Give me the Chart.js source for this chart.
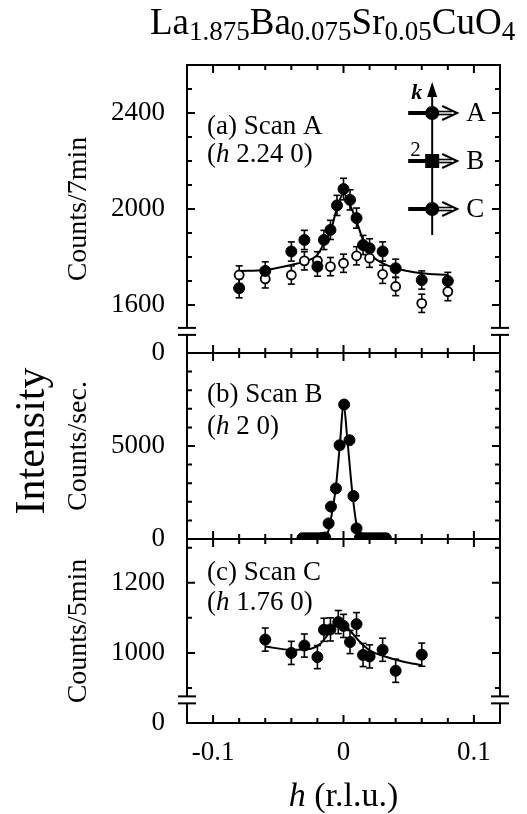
<!DOCTYPE html>
<html>
<head>
<meta charset="utf-8">
<script src="https://cdn.jsdelivr.net/npm/chart.js@4.4.1/dist/chart.umd.min.js"></script>
<style>
  html, body { margin: 0; padding: 0; background: #fff; }
  canvas { display: block; }
</style>
</head>
<body>
<canvas id="chart" width="527" height="814"></canvas>
<script>
const SERIF = '"Liberation Serif", "Times New Roman", Times, serif';

// (a) Scan A, (h 2.24 0), counts / 7 min
const hA = [-0.08, -0.06, -0.04, -0.03, -0.02, -0.015, -0.01, -0.005, 0, 0.005, 0.01, 0.015, 0.02, 0.03, 0.04, 0.06, 0.08];
const scanA = [1670, 1742, 1823, 1871, 1760, 1871, 1913, 2015, 2083, 2038, 1962, 1850, 1836, 1823, 1753, 1704, 1700];
const errA = [40, 38, 40, 40, 40, 40, 40, 42, 45, 42, 42, 40, 40, 40, 38, 38, 36];
const hAOpen = [-0.08, -0.06, -0.04, -0.03, -0.02, -0.01, 0, 0.01, 0.02, 0.03, 0.04, 0.06, 0.08];
const scanAOpen = [1725, 1709, 1725, 1784, 1784, 1760, 1774, 1805, 1795, 1728, 1677, 1607, 1656];
const errAOpen = [38, 38, 38, 38, 38, 38, 38, 38, 38, 38, 38, 38, 38];
const hFitA = [-0.08, -0.06, -0.04, -0.03, -0.02, -0.015, -0.01, -0.005, 0, 0.005, 0.01, 0.015, 0.02, 0.03, 0.04, 0.06, 0.08];
const fitA = [1742, 1746, 1767, 1781, 1809, 1857, 1906, 2003, 2066, 2017, 1948, 1871, 1816, 1774, 1753, 1732, 1725];

// (b) Scan B, (h 2 0), counts / sec
const hB = [-0.0315, -0.029, -0.0265, -0.024, -0.0215, -0.019, -0.0165, -0.014, -0.0114, -0.0096, -0.0058, -0.003, 0.0005, 0.0046, 0.0076, 0.010,
  0.0125, 0.015, 0.0175, 0.020, 0.0225, 0.025, 0.0275, 0.030, 0.0325];
const scanB = [40, 40, 40, 40, 40, 40, 50, 80, 840, 1740, 2720, 5040, 7230, 5310, 2310, 570,
  60, 40, 40, 40, 40, 40, 40, 40, 40];
const hFitB = [-0.032, -0.015, -0.0114, -0.0089, -0.0058, -0.0025, 0, 0.003, 0.0063, 0.0094, 0.0122, 0.015, 0.033];
const fitB = [20, 20, 480, 1380, 2810, 5310, 7280, 5310, 2810, 1020, 120, 20, 20];

// (c) Scan C, (h 1.76 0), counts / 5 min
const hC = [-0.06, -0.04, -0.03, -0.02, -0.015, -0.01, -0.004, 0, 0.005, 0.01, 0.015, 0.02, 0.03, 0.04, 0.06];
const scanC = [1038, 1000, 1021, 988, 1066, 1067, 1088, 1077, 1031, 1082, 994, 990, 1009, 949, 995];
const errC = [33, 33, 33, 33, 33, 33, 33, 33, 33, 33, 33, 33, 33, 33, 33];
const hFitC = [-0.06, -0.04, -0.025, -0.0177, -0.0114, -0.005, 0, 0.005, 0.0114, 0.02, 0.03, 0.046, 0.06];
const fitC = [1018, 1009, 1012, 1026, 1055, 1081, 1084, 1064, 1036, 1007, 992, 975, 965];

// ticks
const hLabels = [-0.1, 0, 0.1];
const hMinor = [-0.08, -0.06, -0.04, -0.02, 0.02, 0.04, 0.06, 0.08];
const aLabels = [1400, 1600, 2000, 2400];   // 1400 is the broken-axis zero
const aMinor = [1700, 1800, 1900, 2100, 2200, 2300, 2500];
const bLabels = [0, 5000];
const bMinor = [1000, 2000, 3000, 4000, 6000, 7000, 8000, 9000];
const cLabels = [800, 1000, 1200];          // 800 is the broken-axis zero
const cMinor = [900, 1100, 1300];

const pts = (xs, ys) => xs.map((x, i) => ({ x, y: ys[i] }));

const filled = { pointRadius: 5.5, pointHoverRadius: 5.5, pointBackgroundColor: "#000", pointBorderColor: "#000", pointBorderWidth: 1, showLine: false };
const fitLine = { showLine: true, pointRadius: 0, borderColor: "#000", borderWidth: 2, cubicInterpolationMode: "monotone" };

const tickFont = { family: SERIF, size: 27 };
const titleFont = { family: SERIF, size: 28 };

const yAxis = (weight, stackWeight, min, max, labels, zero, title) => ({
  type: "linear",
  position: "left",
  stack: "panels",
  stackWeight: stackWeight,
  weight: weight,
  min: min,
  max: max,
  grid: { display: false, drawTicks: false },
  border: { display: false },
  afterBuildTicks: (s) => {
    s.ticks = labels.map((v) => ({ value: v }));
  },
  ticks: {
    autoSkip: false,
    padding: 22,
    color: "#000",
    font: tickFont,
    callback: (v) => (v === zero ? "0" : String(v)),
  },
  title: { display: true, text: title, color: "#000", font: titleFont, padding: { top: 62, bottom: 0 } },
  afterFit: (s) => {
    s.width = 187;
  },
});

const seg = (ctx, x1, y1, x2, y2) => {
  ctx.moveTo(x1, y1);
  ctx.lineTo(x2, y2);
};
const line = (ctx, x1, y1, x2, y2) => {
  ctx.beginPath();
  seg(ctx, x1, y1, x2, y2);
  ctx.stroke();
};

// text made of runs with their own fonts: [text, font, dy]
const drawRuns = (ctx, x, y, runs) => {
  for (const [t, f, dy] of runs) {
    ctx.font = f;
    ctx.fillText(t, x, y + (dy || 0));
    x += ctx.measureText(t).width;
  }
};
const runsWidth = (ctx, runs) =>
  runs.reduce((w, [t, f]) => {
    ctx.font = f;
    return w + ctx.measureText(t).width;
  }, 0);

const frame = {
  id: "frame",
  beforeDatasetsDraw(chart) {
    const ctx = chart.ctx;
    ctx.save();
    ctx.strokeStyle = "#000";
    ctx.lineWidth = 1.6;
    chart.data.datasets.forEach((ds, i) => {
      if (!ds.errors) return;
      const meta = chart.getDatasetMeta(i);
      const xs = chart.scales[meta.xAxisID];
      const ys = chart.scales[meta.yAxisID];
      ds.data.forEach((p, j) => {
        const x = xs.getPixelForValue(p.x);
        const y1 = ys.getPixelForValue(p.y - ds.errors[j]);
        const y2 = ys.getPixelForValue(p.y + ds.errors[j]);
        line(ctx, x, y1, x, y2);
        line(ctx, x - 3.5, y1, x + 3.5, y1);
        line(ctx, x - 3.5, y2, x + 3.5, y2);
      });
    });
    ctx.restore();
  },
  afterDraw(chart) {
    const ctx = chart.ctx;
    const area = chart.chartArea;
    const left = area.left, right = area.right, top = area.top, bottom = area.bottom;
    const xs = chart.scales.x;
    const ya = chart.scales.ya, yb = chart.scales.yb, yc = chart.scales.yc;
    ctx.save();
    ctx.strokeStyle = "#000";
    ctx.fillStyle = "#000";
    ctx.lineWidth = 2;

    // inward ticks, collected into one path
    ctx.beginPath();
    [ya, yb, yc].forEach((p) => {
      hLabels.forEach((h) => {
        const x = xs.getPixelForValue(h);
        seg(ctx, x, p.top, x, p.top + 8);
        seg(ctx, x, p.bottom, x, p.bottom - 8);
      });
      hMinor.forEach((h) => {
        const x = xs.getPixelForValue(h);
        seg(ctx, x, p.top, x, p.top + 5);
        seg(ctx, x, p.bottom, x, p.bottom - 5);
      });
    });
    const yTicks = [
      [ya, [1600, 2000, 2400], aMinor],
      [yb, [5000], bMinor],
      [yc, [1000, 1200], cMinor],
    ];
    yTicks.forEach(([sc, major, minor]) => {
      major.forEach((v) => {
        const y = sc.getPixelForValue(v);
        seg(ctx, left, y, left + 8, y);
        seg(ctx, right, y, right - 8, y);
      });
      minor.forEach((v) => {
        const y = sc.getPixelForValue(v);
        seg(ctx, left, y, left + 5, y);
        seg(ctx, right, y, right - 5, y);
      });
    });
    ctx.stroke();

    // panel edges
    for (const y of [top, ya.bottom, yb.bottom, bottom]) line(ctx, left - 1, y, right + 1, y);
    const gaps = [ya.getPixelForValue(1490), yc.getPixelForValue(866)];
    for (const x of [left, right]) {
      let y0 = top;
      for (const g of gaps) {
        line(ctx, x, y0, x, g - 3.5);
        y0 = g + 3.5;
      }
      line(ctx, x, y0, x, bottom);
      for (const g of gaps) {
        line(ctx, x - 9, g - 3.5, x + 9, g - 3.5);
        line(ctx, x - 9, g + 3.5, x + 9, g + 3.5);
      }
    }

    // panel captions
    const f27 = `27px ${SERIF}`;
    const i27 = `italic 27px ${SERIF}`;
    ctx.textBaseline = "middle";
    ctx.textAlign = "left";
    const cx = left + 20;
    drawRuns(ctx, cx, ya.top + 62, [["(a) Scan A", f27]]);
    drawRuns(ctx, cx, ya.top + 90, [["(", f27], ["h", i27], [" 2.24 0)", f27]]);
    drawRuns(ctx, cx, yb.top + 42, [["(b) Scan B", f27]]);
    drawRuns(ctx, cx, yb.top + 74, [["(", f27], ["h", i27], [" 2 0)", f27]]);
    drawRuns(ctx, cx, yc.top + 34, [["(c) Scan C", f27]]);
    drawRuns(ctx, cx, yc.top + 64, [["(", f27], ["h", i27], [" 1.76 0)", f27]]);

    // inset: scan directions in reciprocal space
    const kx = xs.getPixelForValue(0.068);
    const yA = ya.getPixelForValue(2400);
    const yB = ya.getPixelForValue(2200);
    const yC = ya.getPixelForValue(2000);
    ctx.lineWidth = 2;
    line(ctx, kx, yC + 26, kx, yA - 20);
    ctx.beginPath();
    ctx.moveTo(kx, yA - 31);
    ctx.lineTo(kx - 5, yA - 16);
    ctx.lineTo(kx + 5, yA - 16);
    ctx.closePath();
    ctx.fill();
    for (const [y, name] of [[yA, "A"], [yB, "B"], [yC, "C"]]) {
      ctx.lineWidth = 4;
      line(ctx, kx - 24, y, kx, y);
      ctx.lineWidth = 1.6;
      line(ctx, kx, y - 1.5, kx + 20, y - 1.5);
      line(ctx, kx, y + 1.5, kx + 20, y + 1.5);
      ctx.lineWidth = 2;
      ctx.beginPath();
      ctx.moveTo(kx + 10, y - 7);
      ctx.lineTo(kx + 25, y);
      ctx.lineTo(kx + 10, y + 7);
      ctx.stroke();
      if (name === "B") {
        ctx.fillRect(kx - 7, y - 7, 14, 14);
      } else {
        ctx.beginPath();
        ctx.arc(kx, y, 7, 0, Math.PI * 2);
        ctx.fill();
      }
      ctx.font = f27;
      ctx.fillText(name, kx + 34, y + 1);
    }
    ctx.font = `italic bold 22px ${SERIF}`;
    ctx.fillText("k", kx - 21, yA - 20);
    ctx.font = `21px ${SERIF}`;
    ctx.fillText("2", kx - 22, yB - 11);

    // y-axis group label
    ctx.save();
    ctx.translate(33, (ya.top + yc.bottom) / 2 + 47);
    ctx.rotate(-Math.PI / 2);
    ctx.textAlign = "center";
    ctx.font = `42px ${SERIF}`;
    ctx.fillText("Intensity", 0, 0);
    ctx.restore();

    // x-axis title
    const xRuns = [["h", `italic 34px ${SERIF}`], [" (r.l.u.)", `34px ${SERIF}`]];
    const xw = runsWidth(ctx, xRuns);
    ctx.textBaseline = "alphabetic";
    drawRuns(ctx, xs.getPixelForValue(0) - xw / 2, 806, xRuns);

    // compound title
    const mf = `37px ${SERIF}`;
    const sf = `27px ${SERIF}`;
    drawRuns(ctx, 150, 34, [["La", mf], ["1.875", sf, 6], ["Ba", mf], ["0.075", sf, 6], ["Sr", mf], ["0.05", sf, 6], ["CuO", mf], ["4", sf, 6]]);
    ctx.restore();
  },
};

new Chart(document.getElementById("chart"), {
  type: "scatter",
  data: {
    datasets: [
      { label: "A", data: pts(hA, scanA), errors: errA, yAxisID: "ya", ...filled },
      { label: "A open", data: pts(hAOpen, scanAOpen), errors: errAOpen, yAxisID: "ya", showLine: false,
        pointRadius: 4.5, pointBackgroundColor: "#fff", pointBorderColor: "#000", pointBorderWidth: 1.8 },
      { label: "A fit", data: pts(hFitA, fitA), yAxisID: "ya", ...fitLine },
      { label: "B", data: pts(hB, scanB), yAxisID: "yb", ...filled },
      { label: "B fit", data: pts(hFitB, fitB), yAxisID: "yb", ...fitLine },
      { label: "C", data: pts(hC, scanC), errors: errC, yAxisID: "yc", ...filled },
      { label: "C fit", data: pts(hFitC, fitC), yAxisID: "yc", ...fitLine },
    ],
  },
  options: {
    responsive: false,
    animation: false,
    devicePixelRatio: 1,
    layout: { padding: { top: 65, right: 27, bottom: 0, left: 0 } },
    plugins: { legend: { display: false }, tooltip: { enabled: false } },
    scales: {
      x: {
        type: "linear",
        position: "bottom",
        min: -0.12,
        max: 0.12,
        grid: { display: false, drawTicks: false },
        border: { display: false },
        afterBuildTicks: (s) => {
          s.ticks = hLabels.map((v) => ({ value: v }));
        },
        ticks: {
          autoSkip: false,
          maxRotation: 0,
          padding: 14,
          color: "#000",
          font: tickFont,
          callback: (v) => (v === 0 ? "0" : v.toFixed(1)),
        },
        afterFit: (s) => {
          s.height = 91;
        },
      },
      ya: yAxis(3, 288, 1400, 2600, aLabels, 1400, "Counts/7min"),
      yb: yAxis(2, 186, 0, 10000, bLabels, null, "Counts/sec."),
      yc: yAxis(1, 184, 800, 1325, cLabels, 800, "Counts/5min"),
    },
  },
  plugins: [frame],
});
</script>
</body>
</html>
